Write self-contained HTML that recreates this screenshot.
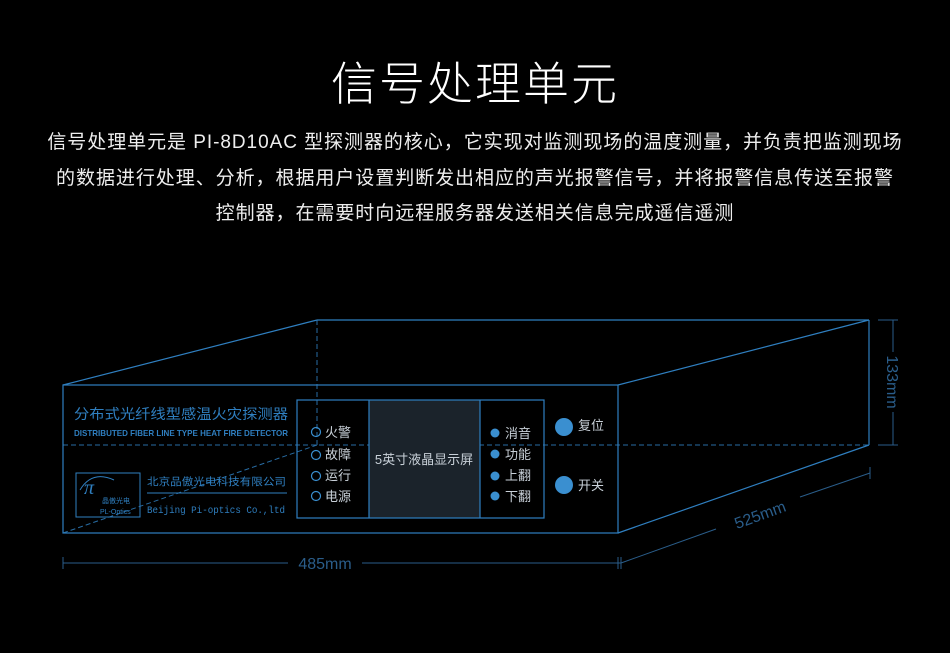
<!DOCTYPE html>
<html><head><meta charset="utf-8">
<style>
html,body{margin:0;padding:0;background:#000;}
body{width:950px;height:653px;overflow:hidden;position:relative;font-family:"Liberation Sans","Noto Sans CJK SC",sans-serif;}
.t{position:absolute;left:0;width:950px;text-align:center;color:#fff;white-space:nowrap;}
</style></head><body>
<div class="t" style="top:56px;font-size:46px;font-weight:300;letter-spacing:2px;line-height:56px;">信号处理单元</div>
<div class="t" style="top:131px;font-size:19px;line-height:24px;color:#eee;letter-spacing:0.95px;">信号处理单元是 PI-8D10AC 型探测器的核心，它实现对监测现场的温度测量，并负责把监测现场</div>
<div class="t" style="top:167px;font-size:19px;line-height:24px;color:#eee;letter-spacing:0.95px;">的数据进行处理、分析，根据用户设置判断发出相应的声光报警信号，并将报警信息传送至报警</div>
<div class="t" style="top:202px;font-size:19px;line-height:24px;color:#eee;letter-spacing:0.95px;">控制器，在需要时向远程服务器发送相关信息完成遥信遥测</div>
<svg width="950" height="653" style="position:absolute;left:0;top:0" font-family="Liberation Sans, Noto Sans CJK SC, sans-serif">
<g stroke="#2f7fc0" stroke-width="1.2" fill="none">
<rect x="63" y="385" width="555" height="148"/>
<line x1="63" y1="385" x2="317" y2="320"/>
<line x1="317" y1="320" x2="869" y2="320"/>
<line x1="618" y1="385" x2="869" y2="320"/>
<line x1="869" y1="320" x2="869" y2="445"/>
<line x1="618" y1="533" x2="869" y2="445"/>
</g>
<g stroke="#2f7fc0" stroke-width="1" fill="none" stroke-dasharray="5,3" opacity="0.85">
<line x1="317" y1="320" x2="317" y2="445"/>
<line x1="63" y1="445" x2="869" y2="445"/>
<line x1="63" y1="533" x2="317" y2="445"/>
</g>
<g stroke="#2a5d8a" stroke-width="1" fill="none">
<line x1="63" y1="563" x2="288" y2="563"/><line x1="362" y1="563" x2="621" y2="563"/>
<line x1="63" y1="557" x2="63" y2="569"/><line x1="618" y1="557" x2="618" y2="569"/><line x1="621" y1="557" x2="621" y2="569"/>
<line x1="878" y1="320" x2="898" y2="320"/><line x1="878" y1="445" x2="898" y2="445"/>
<line x1="893" y1="320" x2="893" y2="352"/><line x1="893" y1="412" x2="893" y2="445"/>
<line x1="621" y1="563" x2="716" y2="529"/><line x1="800" y1="497" x2="870" y2="473"/>
<line x1="870" y1="467" x2="870" y2="479"/>
</g>
<text x="325" y="569" fill="#2a5d8a" font-size="16" text-anchor="middle">485mm</text>
<text transform="translate(887,382) rotate(90)" fill="#2a5d8a" font-size="16" text-anchor="middle">133mm</text>
<text transform="translate(762,520) rotate(-20)" fill="#2a5d8a" font-size="16" text-anchor="middle">525mm</text>
<rect x="369" y="400" width="111" height="118" fill="#1b232b"/>
<g stroke="#2f7fc0" stroke-width="1.2" fill="none">
<rect x="297" y="400" width="247" height="118"/>
<line x1="369" y1="400" x2="369" y2="518"/><line x1="480" y1="400" x2="480" y2="518"/>
</g>
<text x="424" y="464" fill="#c8d0d8" font-size="13" text-anchor="middle">5英寸液晶显示屏</text>
<g fill="none" stroke="#3a8fd0" stroke-width="1.2">
<circle cx="316" cy="432" r="4.5"/><circle cx="316" cy="455" r="4.5"/><circle cx="316" cy="476" r="4.5"/><circle cx="316" cy="496" r="4.5"/>
</g>
<g fill="#c8d0d8" font-size="13">
<text x="325" y="437">火警</text><text x="325" y="459">故障</text><text x="325" y="480">运行</text><text x="325" y="501">电源</text>
<text x="505" y="438">消音</text><text x="505" y="459">功能</text><text x="505" y="480">上翻</text><text x="505" y="501">下翻</text>
<text x="578" y="430">复位</text><text x="578" y="490">开关</text>
</g>
<g fill="#3a8fd0">
<circle cx="495" cy="433" r="4.5"/><circle cx="495" cy="454" r="4.5"/><circle cx="495" cy="476" r="4.5"/><circle cx="495" cy="496" r="4.5"/>
<circle cx="564" cy="427" r="9"/><circle cx="564" cy="485" r="9"/>
</g>
<text x="74" y="419" fill="#2f7fc0" font-size="14" textLength="214" lengthAdjust="spacingAndGlyphs">分布式光纤线型感温火灾探测器</text>
<text x="74" y="436" fill="#2f7fc0" font-size="8.5" font-weight="bold" textLength="214" lengthAdjust="spacingAndGlyphs">DISTRIBUTED FIBER LINE TYPE HEAT FIRE DETECTOR</text>
<rect x="76" y="473" width="64" height="44" fill="none" stroke="#2f7fc0" stroke-width="1"/>
<text x="84" y="494" fill="#2f7fc0" font-size="20" font-style="italic" font-family="Liberation Serif, serif">π</text>
<path d="M80 490 Q92 470 114 480" stroke="#2f7fc0" fill="none"/>
<text x="102" y="503" fill="#2f7fc0" font-size="7">晶傲光电</text>
<text x="100" y="514" fill="#2f7fc0" font-size="7">PL-Optics</text>
<text x="147" y="485" fill="#2f7fc0" font-size="10.5" textLength="139" lengthAdjust="spacingAndGlyphs">北京品傲光电科技有限公司</text>
<line x1="147" y1="493" x2="287" y2="493" stroke="#2f7fc0" stroke-width="1"/>
<text x="147" y="513" fill="#2f7fc0" font-size="10.5" font-family="Liberation Mono, monospace" textLength="138" lengthAdjust="spacingAndGlyphs">Beijing Pi-optics Co.,ltd</text>
</svg>
</body></html>
